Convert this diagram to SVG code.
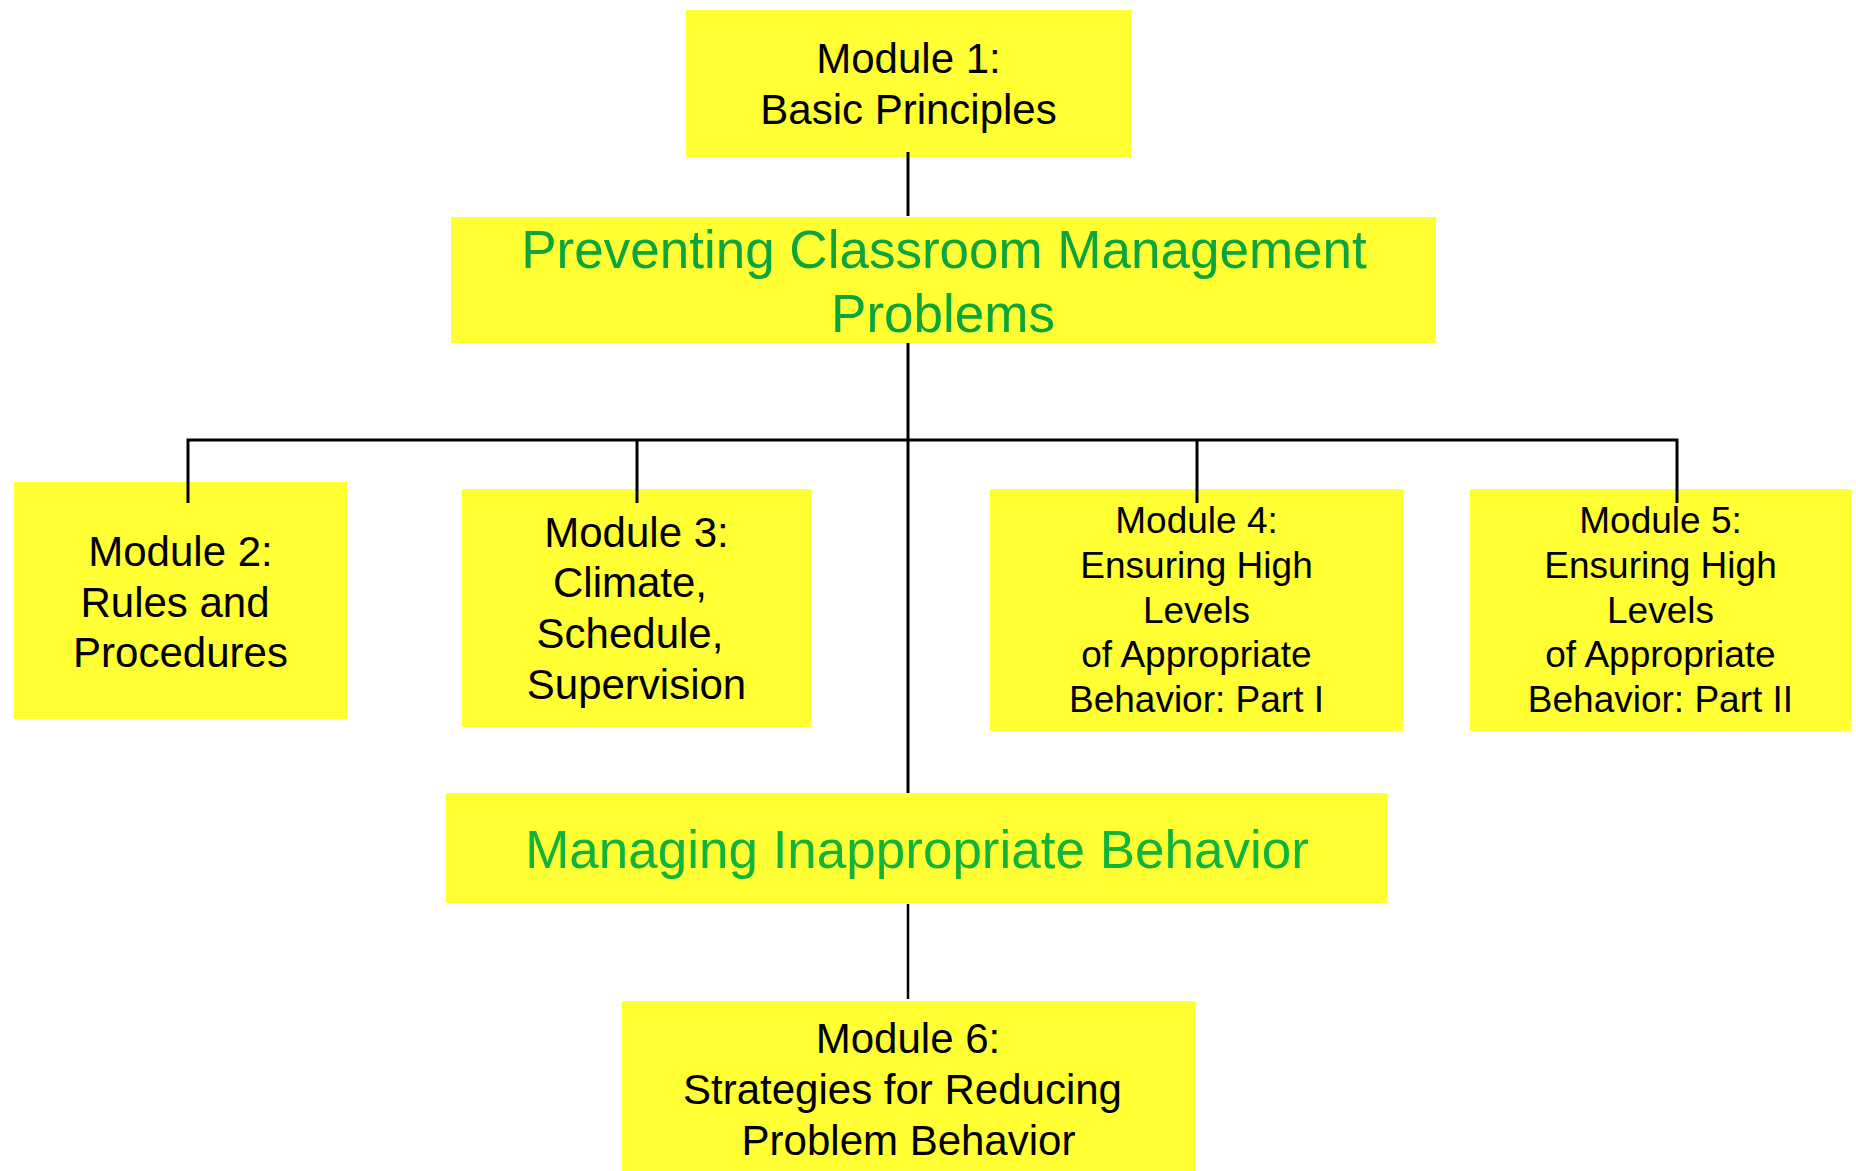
<svg xmlns="http://www.w3.org/2000/svg" width="1856" height="1171" viewBox="0 0 1856 1171">
<style>
.box{fill:#ffff33;stroke:none}
.t{font-family:"Liberation Sans",Arial,sans-serif;fill:#000;text-anchor:middle}
.t41{font-size:42px}
.t36{font-size:37px}
.g{font-family:"Liberation Sans",Arial,sans-serif;font-size:53px;text-anchor:middle}
.g1{fill:#0ca43c}
.g2{fill:#10b43c}
.c{stroke:#000;stroke-width:3;fill:none}
</style>
<rect width="1856" height="1171" fill="#fff"/>
<g id="module1">
<rect class="box" x="686" y="10" width="445" height="147"/>
<text class="t t41" x="908.5" y="73">Module 1:</text>
<text class="t t41" x="908.5" y="124">Basic Principles</text>
</g>
<g id="preventing">
<rect class="box" x="451" y="217" width="985" height="126"/>
<text class="g g1" x="944" y="268">Preventing Classroom Management</text>
<text class="g g1" x="943" y="332">Problems</text>
</g>
<g id="module2">
<rect class="box" x="14" y="482" width="333" height="237"/>
<text class="t t41" x="180.5" y="566">Module 2:</text>
<text class="t t41" x="175" y="617">Rules and</text>
<text class="t t41" x="180.5" y="667">Procedures</text>
</g>
<g id="module3">
<rect class="box" x="462" y="489" width="349" height="238"/>
<text class="t t41" x="636.5" y="547">Module 3:</text>
<text class="t t41" x="630" y="597">Climate,</text>
<text class="t t41" x="630" y="648">Schedule,</text>
<text class="t t41" x="636.5" y="699">Supervision</text>
</g>
<g id="module4">
<rect class="box" x="990" y="489" width="413" height="242"/>
<text class="t t36" x="1196.5" y="533">Module 4:</text>
<text class="t t36" x="1196.5" y="578">Ensuring High</text>
<text class="t t36" x="1196.5" y="623">Levels</text>
<text class="t t36" x="1196.5" y="667">of Appropriate</text>
<text class="t t36" x="1196.5" y="712">Behavior: Part I</text>
</g>
<g id="module5">
<rect class="box" x="1470" y="489" width="381" height="242"/>
<text class="t t36" x="1660.5" y="533">Module 5:</text>
<text class="t t36" x="1660.5" y="578">Ensuring High</text>
<text class="t t36" x="1660.5" y="623">Levels</text>
<text class="t t36" x="1660.5" y="667">of Appropriate</text>
<text class="t t36" x="1660.5" y="712">Behavior: Part II</text>
</g>
<g id="managing">
<rect class="box" x="446" y="793" width="941" height="110"/>
<text class="g g2" x="917" y="868">Managing Inappropriate Behavior</text>
</g>
<g id="module6">
<rect class="box" x="622" y="1001" width="573" height="170"/>
<text class="t t41" x="908" y="1053">Module 6:</text>
<text class="t t41" x="902.5" y="1104">Strategies for Reducing</text>
<text class="t t41" x="908.5" y="1155">Problem Behavior</text>
</g>
<g id="connectors">
<line class="c" x1="908" y1="152" x2="908" y2="216"/>
<line class="c" x1="908" y1="343" x2="908" y2="793"/>
<path class="c" d="M188 503 V440 H1677 V503"/>
<line class="c" x1="637" y1="440" x2="637" y2="503"/>
<line class="c" x1="1197" y1="440" x2="1197" y2="503"/>
<line class="c" x1="908" y1="904" x2="908" y2="999" style="stroke-width:2.5"/>
</g>
</svg>
